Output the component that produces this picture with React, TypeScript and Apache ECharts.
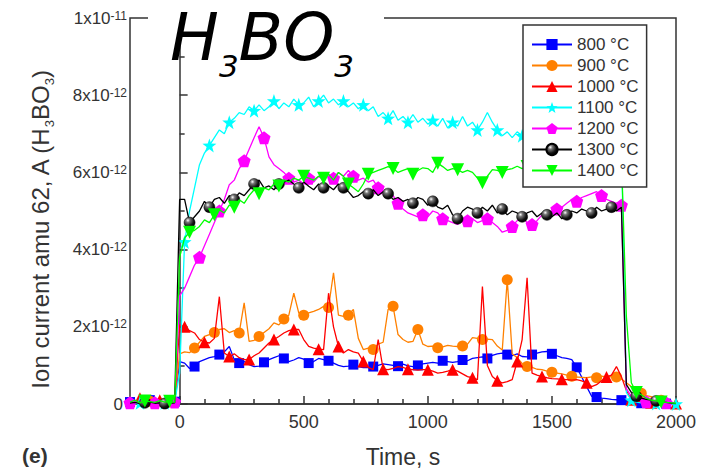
import React, { useEffect, useRef } from "react";
import * as echarts from "echarts";

// time grid (s): -200 .. 2000, 20 s step
const T_START = -200;
const T_STEP = 20;
const N_POINTS = 111;

const SERIES_NAMES = ["800 °C", "900 °C", "1000 °C", "1100 °C", "1200 °C", "1300 °C", "1400 °C"];
const COLORS = ["#0000FF", "#FF8000", "#FF0000", "#00FFFF", "#FF00FF", "#000000", "#00FF00"];

// ion current in units of 1e-12 A
const V800 = [
  0.05, 0.08, 0.03, 0.06, 0.1, 0.04, 0.07, 0.05, 0.09, 0.06,
  1.10, 1.06, 0.92, 0.97, 1.10, 1.15, 1.20, 1.23, 1.28, 1.35,
  1.49, 1.15, 1.06, 1.10, 1.02, 0.97, 0.98, 1.08, 1.15, 1.20,
  1.25, 1.18, 1.10, 1.14, 1.20, 1.16, 1.06, 1.10, 1.18, 1.15,
  1.12, 1.06, 1.00, 0.97, 0.98, 1.02, 0.97, 0.94, 0.94, 0.97,
  1.00, 1.04, 1.02, 1.00, 0.98, 1.03, 0.99, 0.97, 1.00, 1.04,
  1.06, 1.08, 1.06, 1.12, 1.10, 1.08, 1.10, 1.14, 1.12, 1.18,
  1.20, 1.22, 1.18, 1.26, 1.30, 1.32, 1.28, 1.25, 1.30, 1.23,
  1.22, 1.28, 1.32, 1.35, 1.36, 1.30, 1.25, 1.20, 1.18, 1.15,
  0.95, 0.70, 0.45, 0.20, 0.18, 0.15, 0.14, 0.12, 0.11, 0.10,
  0.06,
  0.04, 0.03, 0.02, 0.02, 0.01, 0.02, 0.01, 0.01, 0.0, 0.0,
];
const V900 = [
  0.04, 0.06, 0.03, 0.05, 0.07, 0.04, 0.06, 0.03, 0.05, 0.08,
  1.30, 1.35, 1.33, 1.45, 1.60, 1.75, 1.80, 1.85, 1.93, 1.95,
  1.85, 1.90, 1.84, 2.62, 1.62, 1.65, 1.75, 1.85, 1.95, 2.10,
  2.05, 2.20, 2.30, 2.87, 2.36, 2.30, 2.36, 2.40, 2.45, 2.53,
  2.50, 3.40, 2.30, 2.27, 2.30, 2.45, 1.70, 1.41, 1.45, 1.41,
  1.55, 1.60, 2.45, 2.53, 1.80, 1.67, 1.60, 1.62, 1.93, 1.55,
  1.49, 1.50, 1.46, 1.48, 1.52, 1.50, 1.49, 1.50, 1.55, 1.72,
  1.70, 1.67, 1.68, 1.67, 1.50, 1.40, 3.22, 1.30, 1.20, 1.05,
  0.97, 0.95, 0.90, 0.89, 0.85, 0.82, 0.80, 0.78, 0.75, 0.72,
  0.70, 0.69, 0.68, 0.70, 0.68, 0.72, 0.70, 0.71, 0.70, 0.65,
  0.55,
  0.45, 0.35, 0.28, 0.22, 0.19, 0.15, 0.10, 0.06, 0.04, 0.03,
];
const V1000 = [
  0.10, 0.05, 0.15, 0.08, 0.12, 0.05, 0.10, 0.14, 0.06, 0.10,
  2.05, 2.00, 1.90, 1.84, 1.67, 1.60, 1.58, 1.70, 2.78, 1.32,
  1.23, 1.30, 1.20, 1.15, 1.15, 1.25, 1.32, 1.45, 1.58, 1.67,
  1.75, 1.84, 1.90, 1.93, 1.93, 1.67, 1.49, 1.45, 1.42, 1.41,
  2.87, 2.00, 1.49, 1.32, 1.41, 1.35, 1.32, 1.10, 0.95, 0.89,
  1.67, 0.90, 0.89, 0.92, 0.97, 0.95, 0.90, 0.89, 0.88, 0.89,
  0.89, 0.85, 0.80, 0.82, 0.85, 0.89, 0.85, 0.78, 0.71, 0.68,
  0.63, 3.04, 1.00, 0.71, 0.60, 0.55, 0.58, 0.63, 1.10, 1.67,
  3.27, 0.80, 0.75, 0.71, 0.68, 0.66, 0.65, 0.64, 0.63, 0.62,
  0.63, 0.60, 0.55, 0.45, 0.50, 0.60, 0.70, 0.75, 0.97, 0.71,
  0.35,
  0.11, 0.08, 0.05, 0.04, 0.03, 0.03, 0.02, 0.02, 0.01, 0.01,
];
const V1100 = [
  0.02, 0.0, 0.03, 0.01, 0.02, 0.0, 0.01, 0.03, 0.02, 0.05,
  0.80, 4.20, 5.00, 5.60, 6.20, 6.50, 6.70, 6.90, 7.10, 7.00,
  7.30, 7.40, 7.55, 7.50, 7.70, 7.60, 7.75, 7.60, 7.70, 7.85,
  7.65, 7.80, 7.70, 7.90, 7.75, 7.80, 7.95, 7.70, 7.85, 8.00,
  7.80, 7.90, 7.75, 7.85, 7.70, 7.80, 7.65, 7.75, 7.60, 7.70,
  7.45, 7.55, 7.40, 7.60, 7.35, 7.45, 7.30, 7.50, 7.30, 7.40,
  7.25, 7.35, 7.20, 7.40, 7.15, 7.30, 7.20, 7.45, 7.20, 7.30,
  7.10, 7.30, 7.55, 7.30, 7.10, 6.95, 7.05, 6.90, 7.05, 6.95,
  7.00, 6.90, 7.05, 6.95, 7.00, 6.90, 7.00, 6.95, 6.90, 7.00,
  6.90, 6.95, 6.85, 6.95, 6.90, 6.85, 6.90, 6.85, 6.90, 6.80,
  0.30,
  0.10, 0.05, 0.03, 0.02, 0.02, 0.01, 0.01, 0.0, 0.0, 0.0,
];
const V1200 = [
  0.03, 0.05, 0.02, 0.04, 0.06, 0.03, 0.05, 0.02, 0.04, 0.05,
  2.80, 3.00, 3.30, 3.60, 3.80, 4.10, 4.40, 4.70, 5.00, 5.30,
  5.68, 5.80, 6.10, 6.30, 6.60, 6.90, 7.18, 6.90, 6.40, 6.20,
  6.10, 6.00, 5.85, 5.75, 5.80, 5.70, 5.85, 5.75, 5.90, 5.80,
  5.95, 5.85, 6.00, 5.90, 6.05, 5.90, 5.80, 5.85, 5.75, 5.80,
  5.60, 5.50, 5.45, 5.40, 5.20, 5.05, 4.95, 4.90, 4.85, 4.90,
  4.85, 5.00, 4.95, 4.80, 4.75, 4.70, 4.65, 4.80, 4.75, 4.80,
  4.70, 4.75, 4.80, 4.70, 4.60, 4.45, 4.50, 4.60, 4.75, 4.85,
  4.70, 4.65, 4.75, 4.90, 4.85, 5.00, 5.05, 5.10, 5.20, 5.30,
  5.25, 5.35, 5.40, 5.45, 5.50, 5.40, 5.30, 5.25, 5.20, 5.15,
  0.40,
  0.20, 0.12, 0.08, 0.06, 0.05, 0.04, 0.03, 0.03, 0.02, 0.01,
];
const V1300 = [
  0.02, 0.04, 0.01, 0.03, 0.05, 0.02, 0.03, 0.01, 0.02, 0.03,
  5.30, 5.30, 4.70, 4.85, 5.00, 5.25, 5.10, 5.30, 5.35, 5.20,
  5.40, 5.30, 5.47, 5.40, 5.55, 5.70, 5.80, 5.60, 5.65, 5.55,
  5.70, 5.75, 5.80, 5.70, 5.60, 5.75, 5.64, 5.55, 5.70, 5.60,
  5.65, 5.55, 5.70, 5.60, 5.50, 5.35, 5.40, 5.50, 5.45, 5.55,
  5.40, 5.50, 5.45, 5.30, 5.35, 5.25, 5.30, 5.20, 5.35, 5.30,
  5.15, 5.25, 5.10, 5.05, 5.15, 4.90, 4.80, 5.00, 5.10, 5.05,
  4.95, 5.10, 5.00, 5.15, 4.95, 5.05, 4.90, 5.00, 4.95, 4.85,
  4.95, 5.00, 4.85, 4.95, 4.90, 4.85, 4.95, 4.80, 4.90, 5.00,
  4.95, 5.05, 5.00, 4.95, 5.10, 5.00, 5.05, 5.10, 5.00, 5.10,
  0.50,
  0.30, 0.20, 0.15, 0.12, 0.10, 0.08, 0.06, 0.04, 0.02, 0.01,
];
const V1400 = [
  0.05, 0.10, 0.03, 0.08, 0.06, 0.04, 0.09, 0.05, 0.07, 0.04,
  3.80, 4.30, 4.45, 4.50, 4.60, 4.77, 4.70, 4.90, 5.03, 4.95,
  5.15, 5.10, 5.29, 5.20, 5.40, 5.55, 5.45, 5.60, 5.55, 5.70,
  5.65, 5.80, 5.75, 5.85, 5.80, 5.90, 5.85, 5.80, 5.90, 5.85,
  5.95, 5.80, 6.00, 5.90, 5.70, 5.60, 5.50, 5.70, 5.95, 6.00,
  6.05, 6.10, 6.15, 6.10, 6.00, 6.05, 6.10, 5.95, 6.05, 6.12,
  6.10, 6.00, 6.24, 6.15, 6.05, 6.10, 6.07, 6.00, 6.05, 6.00,
  5.85, 5.73, 5.90, 6.07, 6.05, 6.00, 6.07, 6.10, 6.16, 6.10,
  6.15, 6.10, 6.20, 6.15, 6.20, 6.10, 6.20, 6.15, 6.25, 6.20,
  6.15, 6.25, 6.20, 6.30, 6.20, 6.25, 6.35, 6.30, 6.40, 6.45,
  2.27,
  0.55, 0.30, 0.24, 0.15, 0.10, 0.08, 0.05, 0.04, 0.03, 0.02,
];

const X_MAJOR = [0, 500, 1000, 1500, 2000];
const X_MINOR = [-100, 100, 200, 300, 400, 600, 700, 800, 900, 1100, 1200, 1300, 1400, 1600, 1700, 1800, 1900];
const Y_MIN = 0;
const Y_MAX = 10;
const Y_STEP = 2;

const STAR = "path://M0,-10L2.35,-3.24L9.51,-3.09L3.8,1.24L5.88,8.09L0,4L-5.88,8.09L-3.8,1.24L-9.51,-3.09L-2.35,-3.24Z";
const PENT = "path://M0,-10L9.51,-3.09L5.88,8.09L-5.88,8.09L-9.51,-3.09Z";
const INV_TRI = "path://M-10,-8L10,-8L0,9Z";

const FONT = "'Liberation Sans', Arial, sans-serif";

export default function App() {
  const ref = useRef<HTMLDivElement>(null);
  useEffect(() => {
    if (!ref.current) return;
    const chart = echarts.init(ref.current, undefined, { renderer: "svg" });
    const times = Array.from({ length: N_POINTS }, (_, i) => T_START + i * T_STEP);
    const values = [V800, V900, V1000, V1100, V1200, V1300, V1400];
    const sphere = new echarts.graphic.RadialGradient(0.35, 0.3, 0.75, [
      { offset: 0, color: "#ffffff" },
      { offset: 0.25, color: "#777777" },
      { offset: 0.7, color: "#111111" },
      { offset: 1, color: "#000000" },
    ]);
    const symbols = ["rect", "circle", "triangle", STAR, PENT, "circle", INV_TRI];
    const sizes = [10, 11, 12, 14, 13, 11, 13];
    const offsets = [5, 1, 3, 7, 0, 2, 6];
    const isMark = (i: number, off: number) => ((i + off) * 2) % 9 < 2;

    const series = values.map((vals, s) => ({
      type: "line",
      name: SERIES_NAMES[s],
      xAxisIndex: 0,
      yAxisIndex: 0,
      symbol: symbols[s],
      symbolSize: sizes[s],
      showSymbol: true,
      lineStyle: { width: 1.3, color: COLORS[s] },
      itemStyle: s === 5 ? { color: sphere, borderColor: "#000", borderWidth: 0.5 } : { color: COLORS[s] },
      emphasis: { disabled: true },
      data: vals.map((v, i) =>
        isMark(i, offsets[s]) ? { value: [times[i], v] } : { value: [times[i], v], symbol: "none" }
      ),
      z: 2 + s * 0.01,
    }));

    const tickLine = { color: "#333", width: 1.5 };
    chart.setOption({
      animation: false,
      grid: {
        left: 130, top: 18, right: 32, bottom: 69,
        show: true, borderColor: "#333", borderWidth: 1.5, backgroundColor: "transparent",
      },
      legend: {
        orient: "vertical",
        left: 523, top: 25,
        padding: [11, 8, 8, 8],
        itemGap: 4, itemWidth: 40, itemHeight: 14,
        borderColor: "#333", borderWidth: 1.5, borderRadius: 0,
        backgroundColor: "#fff",
        textStyle: { fontSize: 17, color: "#333", fontFamily: FONT },
        data: SERIES_NAMES,
        selectedMode: false,
      },
      xAxis: [
        {
          type: "value", min: -200, max: 2000,
          axisLine: { show: true, onZero: false, lineStyle: tickLine },
          axisTick: { show: true, inside: true, length: 8, customValues: X_MAJOR, lineStyle: tickLine },
          axisLabel: {
            customValues: X_MAJOR, fontSize: 18, color: "#333", margin: 9, fontFamily: FONT,
            formatter: (v: number) => String(v),
          },
          splitLine: { show: false },
        },
        {
          type: "value", min: -200, max: 2000, position: "bottom",
          axisLine: { show: false, onZero: false },
          axisTick: { show: true, inside: true, length: 5, customValues: X_MINOR, lineStyle: tickLine },
          axisLabel: { show: false },
          splitLine: { show: false },
        },
      ],
      yAxis: {
        type: "value", min: Y_MIN, max: Y_MAX, interval: Y_STEP,
        axisLine: { show: true, lineStyle: tickLine },
        axisTick: { show: true, inside: true, length: 8, lineStyle: tickLine },
        minorTick: { show: true, splitNumber: 2, length: 5, lineStyle: tickLine },
        splitLine: { show: false },
        axisLabel: {
          margin: 3,
          formatter: (v: number) => {
            if (v === 0) return "{z|0}";
            if (v === 10) return "{b|1x10}{s|-11}";
            return `{b|${v}x10}{s|-12}`;
          },
          rich: {
            b: { fontSize: 17, color: "#333", fontFamily: FONT },
            z: { fontSize: 17, color: "#333", fontFamily: FONT, padding: [0, 4, 0, 0] },
            s: { fontSize: 12, color: "#333", fontFamily: FONT, verticalAlign: "top" },
          },
        },
      },
      graphic: [
        { type: "rect", z: 100, shape: { x: 148, y: 8, width: 236, height: 18 }, style: { fill: "#fff" } },
        {
          type: "text", z: 101, x: 170, y: 5,
          style: {
            text: "{n|H}{s|3}{n|BO}{s|3}",
            align: "left", verticalAlign: "top",
            rich: {
              n: { fontSize: 65, fontStyle: "italic", fontFamily: "'DejaVu Sans'", fill: "#000", verticalAlign: "bottom", padding: [0, 0, 11, 0] },
              s: { fontSize: 31, fontStyle: "italic", fontFamily: "'DejaVu Sans'", fill: "#000", verticalAlign: "bottom" },
            },
          },
        },
        {
          type: "text", z: 101, x: 42, y: 230, rotation: Math.PI / 2,
          style: {
            text: "{n|Ion current amu 62, A (H}{s|3}{n|BO}{s|3}{n|)}",
            align: "center", verticalAlign: "middle",
            rich: {
              n: { fontSize: 24, fontFamily: FONT, fill: "#333", verticalAlign: "bottom", padding: [0, 0, 4, 0] },
              s: { fontSize: 13, fontFamily: FONT, fill: "#333", verticalAlign: "bottom" },
            },
          },
        },
        {
          type: "text", z: 101, x: 403, y: 457,
          style: { text: "Time, s", fontSize: 23, fontFamily: FONT, fill: "#333", align: "center", verticalAlign: "middle" },
        },
        {
          type: "text", z: 101, x: 22, y: 455,
          style: { text: "(e)", fontSize: 21, fontWeight: "bold", fontFamily: FONT, fill: "#333", align: "left", verticalAlign: "middle" },
        },
      ],
      series,
    });
    return () => chart.dispose();
  }, []);
  return <div ref={ref} style={{ position: "fixed", left: 0, top: 0, width: 708, height: 473, background: "#fff" }} />;
}
